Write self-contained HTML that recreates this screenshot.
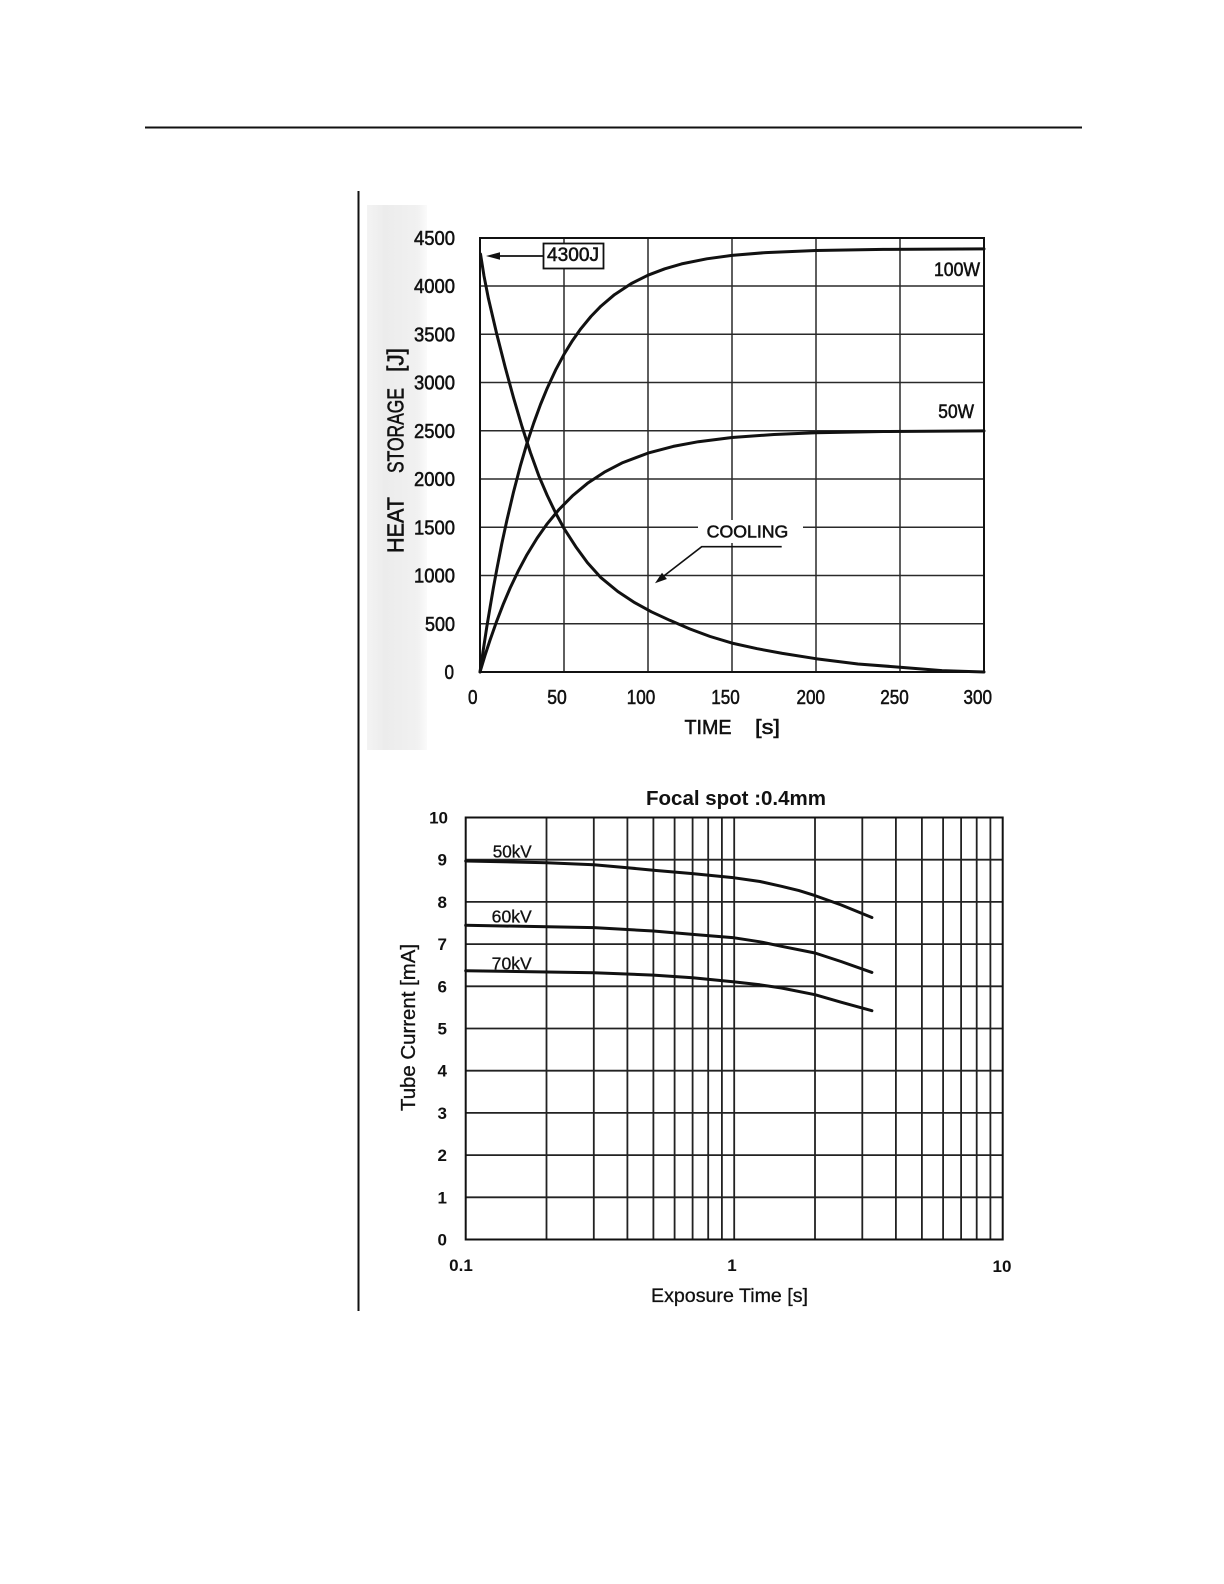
<!DOCTYPE html>
<html><head><meta charset="utf-8"><style>
html,body{margin:0;padding:0;background:#fff;}
body{width:1224px;height:1584px;position:relative;overflow:hidden;}
svg{position:absolute;left:0;top:0;}
text{font-family:"Liberation Sans",sans-serif;fill:#111;}
.h{stroke:#111;stroke-width:0.55;}
.h2{stroke:#111;stroke-width:0.3;}
</style></head><body>
<svg width="1224" height="1584" viewBox="0 0 1224 1584" xmlns="http://www.w3.org/2000/svg">
<defs>
<linearGradient id="g" x1="0" x2="1" y1="0" y2="0">
<stop offset="0" stop-color="#f3f3f3"/><stop offset="0.3" stop-color="#ececec"/><stop offset="0.85" stop-color="#f1f1f1"/><stop offset="1" stop-color="#fbfbfb"/>
</linearGradient>
</defs>
<!-- top rule -->
<line x1="145" y1="127.5" x2="1082" y2="127.5" stroke="#111" stroke-width="2"/>
<!-- vertical divider -->
<line x1="358.5" y1="191" x2="358.5" y2="1311" stroke="#111" stroke-width="2"/>
<!-- gray scan strip -->
<rect x="367" y="205" width="60" height="545" fill="url(#g)"/>

<!-- ============ TOP CHART ============ -->
<g stroke="#2a2a2a" stroke-width="1.5" fill="none">
<line x1="564" y1="238" x2="564" y2="672"/>
<line x1="648" y1="238" x2="648" y2="672"/>
<line x1="732" y1="238" x2="732" y2="672"/>
<line x1="816" y1="238" x2="816" y2="672"/>
<line x1="900" y1="238" x2="900" y2="672"/>
<line x1="480" y1="623.75" x2="984" y2="623.75"/>
<line x1="480" y1="575.5" x2="984" y2="575.5"/>
<line x1="480" y1="527.25" x2="984" y2="527.25"/>
<line x1="480" y1="479" x2="984" y2="479"/>
<line x1="480" y1="430.75" x2="984" y2="430.75"/>
<line x1="480" y1="382.5" x2="984" y2="382.5"/>
<line x1="480" y1="334.25" x2="984" y2="334.25"/>
<line x1="480" y1="286" x2="984" y2="286"/>
</g>
<rect x="480" y="238" width="504" height="434" fill="none" stroke="#111" stroke-width="2"/>

<!-- COOLING label background -->
<rect x="698" y="520" width="105" height="23" fill="#fff"/>

<g stroke="#111" stroke-width="3" fill="none" stroke-linejoin="round" stroke-linecap="round">
<path d="M480,672 L483.4,649.1 L486.7,627.5 L490.1,607.1 L493.4,587.7 L496.8,569.4 L501.8,543.7 L506.9,520.2 L513.6,491.7 L520.3,466.1 L527,443.2 L533.8,422.8 L540.5,404.5 L547.2,388.2 L555.6,370.1 L564,354.4 L572.4,340.7 L580.8,328.8 L590.9,316.5 L601,306.1 L614.4,294.7 L631.2,283.6 L648,275.2 L664.8,268.8 L681.6,263.9 L706.8,258.8 L732,255.4 L765.6,252.6 L816,250.5 L883.2,249.4 L984,248.9"/>
<path d="M480,672 L485,655.4 L490.1,639.9 L496.8,620.9 L503.5,603.6 L510.2,587.9 L518.6,570.3 L527,554.6 L537.1,538.1 L547.2,523.8 L559,509.5 L572.4,495.9 L587.5,483.3 L604.3,472.2 L622.8,462.6 L648,453.1 L673.2,446.4 L698.4,441.7 L732,437.5 L774,434.5 L816,432.8 L883.2,431.5 L984,430.9"/>
<path d="M480.5,254 L484,276 L488.4,298.4 L496.8,334.25 L505.2,367.3 L513.6,398 L522,426.5 L530.4,452.5 L538.8,475.8 L547.2,495.4 L555.6,512.9 L564,528.4 L575.8,546.7 L587.5,562.8 L601,577.7 L617.8,591.5 L634.6,602.6 L651.4,611.8 L669.8,620.3 L690,629 L710.2,636.5 L732,643.1 L757.2,648.7 L782.4,653.4 L816,658.7 L858,664 L900,667.2 L942,670.6 L984,672"/>
</g>

<!-- 4300J annotation -->
<rect x="543.5" y="243.5" width="60" height="25" fill="#fff" stroke="#111" stroke-width="1.8"/>
<text class="h" x="547" y="261" font-size="19" textLength="52" lengthAdjust="spacingAndGlyphs">4300J</text>
<line x1="498" y1="256" x2="543" y2="256" stroke="#111" stroke-width="1.8"/>
<polygon points="486,256 500,252.3 500,259.7" fill="#111"/>

<!-- COOLING -->
<text class="h" x="706.7" y="537.7" font-size="17.5" textLength="81.6" lengthAdjust="spacingAndGlyphs">COOLING</text>
<polyline points="781.7,546.7 701.7,546.7 663,576.6" fill="none" stroke="#111" stroke-width="1.6"/>
<polygon points="655,583.3 666.9,579.05 662,572.75" fill="#111"/>

<!-- series labels -->
<text class="h" x="934" y="276" font-size="19" textLength="46" lengthAdjust="spacingAndGlyphs">100W</text>
<text class="h" x="938.3" y="418" font-size="19" textLength="35.7" lengthAdjust="spacingAndGlyphs">50W</text>

<!-- y tick labels -->
<g font-size="20" text-anchor="end" class="h">
<text x="455" y="245" textLength="41" lengthAdjust="spacingAndGlyphs">4500</text>
<text x="455" y="293" textLength="41" lengthAdjust="spacingAndGlyphs">4000</text>
<text x="455" y="341.3" textLength="41" lengthAdjust="spacingAndGlyphs">3500</text>
<text x="455" y="389.5" textLength="41" lengthAdjust="spacingAndGlyphs">3000</text>
<text x="455" y="437.8" textLength="41" lengthAdjust="spacingAndGlyphs">2500</text>
<text x="455" y="486" textLength="41" lengthAdjust="spacingAndGlyphs">2000</text>
<text x="455" y="534.3" textLength="41" lengthAdjust="spacingAndGlyphs">1500</text>
<text x="455" y="582.5" textLength="41" lengthAdjust="spacingAndGlyphs">1000</text>
<text x="455" y="630.8" textLength="30" lengthAdjust="spacingAndGlyphs">500</text>
<text x="454" y="679" textLength="9.5" lengthAdjust="spacingAndGlyphs">0</text>
</g>
<!-- x tick labels -->
<g font-size="20" text-anchor="middle" class="h">
<text x="472.7" y="704" textLength="9.5" lengthAdjust="spacingAndGlyphs">0</text>
<text x="557" y="704" textLength="19.5" lengthAdjust="spacingAndGlyphs">50</text>
<text x="641" y="704" textLength="28.5" lengthAdjust="spacingAndGlyphs">100</text>
<text x="725.5" y="704" textLength="28.5" lengthAdjust="spacingAndGlyphs">150</text>
<text x="810.8" y="704" textLength="28.5" lengthAdjust="spacingAndGlyphs">200</text>
<text x="894.5" y="704" textLength="28.5" lengthAdjust="spacingAndGlyphs">250</text>
<text x="977.8" y="704" textLength="28.5" lengthAdjust="spacingAndGlyphs">300</text>
</g>
<!-- axis titles -->
<text class="h" x="684.5" y="734" font-size="20.5" textLength="47" lengthAdjust="spacingAndGlyphs">TIME</text>
<text class="h" x="755" y="734" font-size="20.5" textLength="25" lengthAdjust="spacingAndGlyphs">[s]</text>
<g font-size="23" text-anchor="middle" class="h">
<text x="403.3" y="525" transform="rotate(-90 403.3 525)" textLength="56" lengthAdjust="spacingAndGlyphs">HEAT</text>
<text x="403.3" y="430.5" transform="rotate(-90 403.3 430.5)" textLength="85" lengthAdjust="spacingAndGlyphs">STORAGE</text>
<text x="403.3" y="360" transform="rotate(-90 403.3 360)" textLength="24" lengthAdjust="spacingAndGlyphs">[J]</text>
</g>

<!-- ============ BOTTOM CHART ============ -->
<text x="646" y="805" font-size="20" font-weight="bold" textLength="180" lengthAdjust="spacingAndGlyphs">Focal spot :0.4mm</text>
<g stroke="#222" stroke-width="1.8" fill="none">
<line x1="465.7" y1="1197.3" x2="1002.7" y2="1197.3"/>
<line x1="465.7" y1="1155.1" x2="1002.7" y2="1155.1"/>
<line x1="465.7" y1="1112.9" x2="1002.7" y2="1112.9"/>
<line x1="465.7" y1="1070.7" x2="1002.7" y2="1070.7"/>
<line x1="465.7" y1="1028.5" x2="1002.7" y2="1028.5"/>
<line x1="465.7" y1="986.3" x2="1002.7" y2="986.3"/>
<line x1="465.7" y1="944.1" x2="1002.7" y2="944.1"/>
<line x1="465.7" y1="901.9" x2="1002.7" y2="901.9"/>
<line x1="465.7" y1="859.7" x2="1002.7" y2="859.7"/>
<line x1="546.5" y1="817.5" x2="546.5" y2="1239.5"/>
<line x1="593.8" y1="817.5" x2="593.8" y2="1239.5"/>
<line x1="627.4" y1="817.5" x2="627.4" y2="1239.5"/>
<line x1="653.4" y1="817.5" x2="653.4" y2="1239.5"/>
<line x1="674.6" y1="817.5" x2="674.6" y2="1239.5"/>
<line x1="692.6" y1="817.5" x2="692.6" y2="1239.5"/>
<line x1="708.2" y1="817.5" x2="708.2" y2="1239.5"/>
<line x1="721.9" y1="817.5" x2="721.9" y2="1239.5"/>
<line x1="734.2" y1="817.5" x2="734.2" y2="1239.5"/>
<line x1="815" y1="817.5" x2="815" y2="1239.5"/>
<line x1="862.3" y1="817.5" x2="862.3" y2="1239.5"/>
<line x1="895.9" y1="817.5" x2="895.9" y2="1239.5"/>
<line x1="921.9" y1="817.5" x2="921.9" y2="1239.5"/>
<line x1="943.1" y1="817.5" x2="943.1" y2="1239.5"/>
<line x1="961.1" y1="817.5" x2="961.1" y2="1239.5"/>
<line x1="976.7" y1="817.5" x2="976.7" y2="1239.5"/>
<line x1="990.4" y1="817.5" x2="990.4" y2="1239.5"/>
</g>
<rect x="465.7" y="817.5" width="537" height="422" fill="none" stroke="#111" stroke-width="2"/>

<g stroke="#111" stroke-width="3" fill="none" stroke-linejoin="round" stroke-linecap="round">
<path d="M465.7,861 L546.5,862.7 L593.8,864.8 L627.4,867.7 L653.4,870.3 L692.6,873.6 L734.2,877.8 L760,881.5 L781.5,886.3 L799,890.6 L815,895.6 L841,904.9 L871.9,917.5"/>
<path d="M465.7,925.3 L593.8,927.6 L653.4,931 L692.6,934.4 L734.2,937.8 L760,941.8 L781.5,946.3 L815,953 L841,961.5 L871.9,972.4"/>
<path d="M465.7,970.7 L593.8,972.7 L653.4,975.1 L692.6,977.8 L734.2,981.9 L760,984.8 L781.5,988 L815,994.7 L841,1002.2 L871.9,1010.7"/>
</g>
<g font-size="17.5" class="h2">
<text x="492.7" y="857.3" textLength="39" lengthAdjust="spacingAndGlyphs">50kV</text>
<text x="491.7" y="922.7" textLength="40" lengthAdjust="spacingAndGlyphs">60kV</text>
<text x="491.7" y="969.3" textLength="40" lengthAdjust="spacingAndGlyphs">70kV</text>
</g>
<!-- y tick labels -->
<g font-size="17" font-weight="bold" text-anchor="end">
<text x="448" y="823.5">10</text>
<text x="447" y="865.7">9</text>
<text x="447" y="907.9">8</text>
<text x="447" y="950.1">7</text>
<text x="447" y="992.3">6</text>
<text x="447" y="1034.5">5</text>
<text x="447" y="1076.7">4</text>
<text x="447" y="1118.9">3</text>
<text x="447" y="1161.1">2</text>
<text x="447" y="1203.3">1</text>
<text x="447" y="1245.5">0</text>
</g>
<g font-size="17" font-weight="bold" text-anchor="middle">
<text x="461" y="1271">0.1</text>
<text x="732" y="1271">1</text>
<text x="1002" y="1272">10</text>
</g>
<text class="h2" x="651" y="1302" font-size="19.5" textLength="157" lengthAdjust="spacingAndGlyphs">Exposure Time [s]</text>
<text class="h2" x="415" y="1027.5" font-size="20" text-anchor="middle" transform="rotate(-90 415 1027.5)" textLength="167" lengthAdjust="spacingAndGlyphs">Tube Current [mA]</text>
</svg>
</body></html>
